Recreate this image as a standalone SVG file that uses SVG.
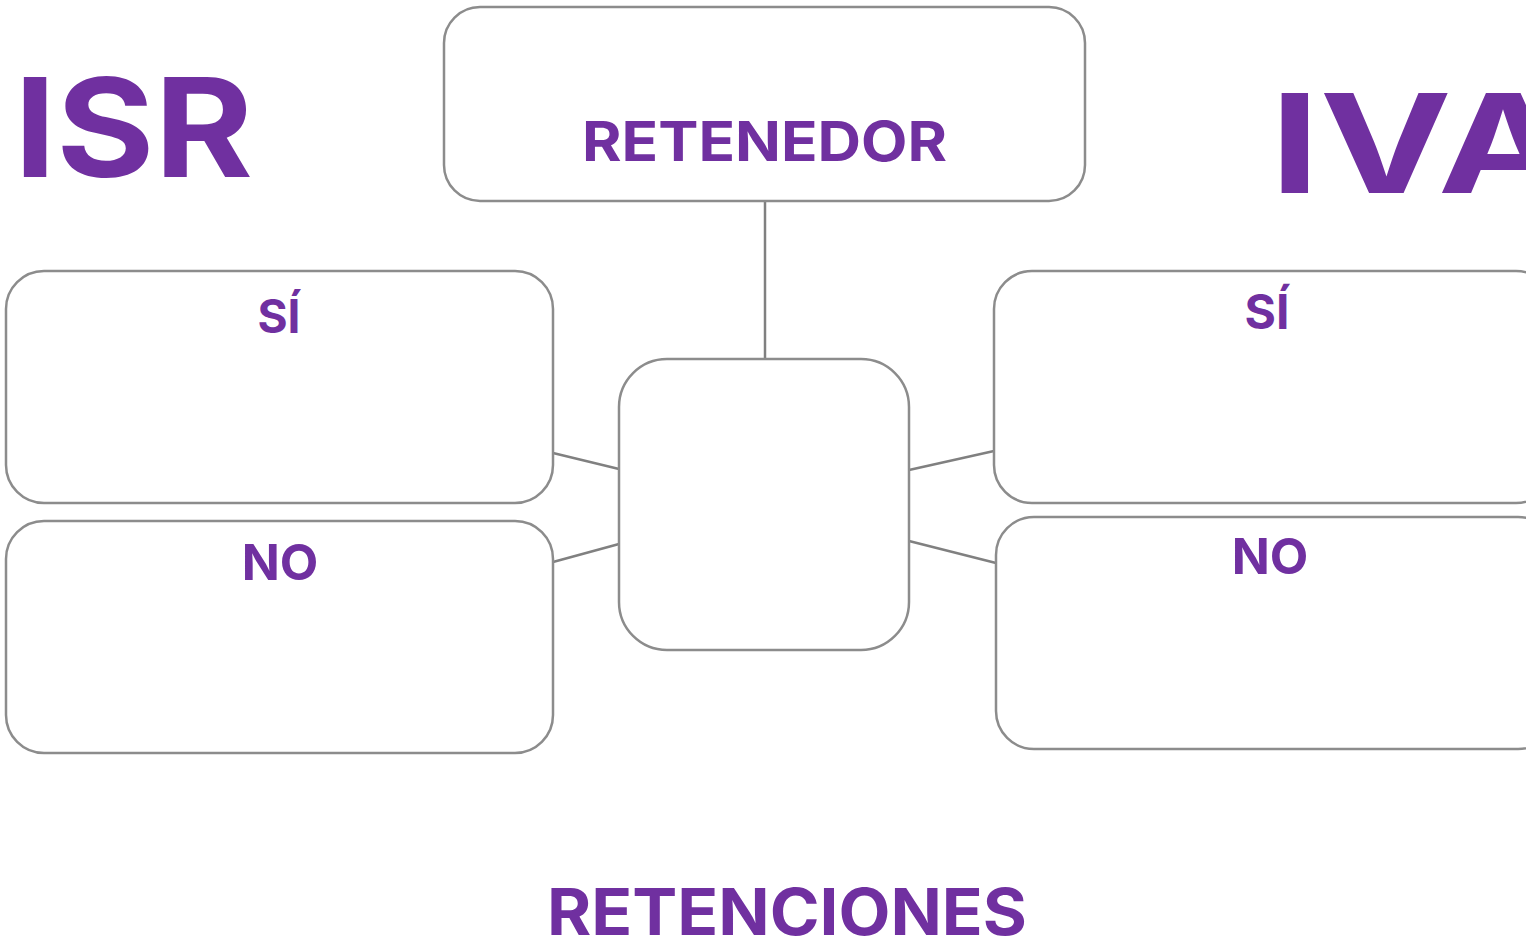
<svg xmlns="http://www.w3.org/2000/svg" width="1526" height="940" viewBox="0 0 1526 940">
<style>
.box{fill:#fff;stroke:#8c8c8c;stroke-width:2.5}
.conn line{stroke:#808080;stroke-width:2.5}
text{font-family:Inter,"Open Sans","Liberation Sans",sans-serif;font-weight:700;fill:#7030A0}
</style>
<rect width="1526" height="940" fill="#fff"/>
<g id="connectors" class="conn">
<line x1="765" y1="201" x2="765" y2="359"/>
<line x1="553" y1="453" x2="619" y2="469"/>
<line x1="553" y1="562" x2="619" y2="544"/>
<line x1="909" y1="470" x2="994" y2="451"/>
<line x1="909" y1="541" x2="996" y2="563"/>
</g>
<g id="title-isr"><text x="14" y="177" font-size="137" textLength="239" lengthAdjust="spacingAndGlyphs">ISR</text></g>
<g id="title-iva"><text x="1270" y="193" font-size="137" textLength="300" lengthAdjust="spacingAndGlyphs">IVA</text></g>
<g id="retenedor"><rect class="box" x="444" y="7" width="641" height="194" rx="36"/><text x="582" y="161" font-size="55" textLength="365" lengthAdjust="spacingAndGlyphs">RETENEDOR</text></g>
<g id="isr-si"><rect class="box" x="6" y="271" width="547" height="232" rx="38"/><text x="279" y="333" font-size="46" text-anchor="middle">SÍ</text></g>
<g id="isr-no"><rect class="box" x="6" y="521" width="547" height="232" rx="38"/><text x="280" y="580" font-size="50" text-anchor="middle">NO</text></g>
<g id="center"><rect class="box" x="619" y="359" width="290" height="291" rx="48"/></g>
<g id="iva-si"><rect class="box" x="994" y="271" width="560" height="232" rx="38"/><text x="1267" y="329" font-size="48" text-anchor="middle">SÍ</text></g>
<g id="iva-no"><rect class="box" x="996" y="517" width="560" height="232" rx="38"/><text x="1270" y="574" font-size="50" text-anchor="middle">NO</text></g>
<g id="retenciones"><text x="547" y="935" font-size="64" textLength="480" lengthAdjust="spacingAndGlyphs">RETENCIONES</text></g>
</svg>
